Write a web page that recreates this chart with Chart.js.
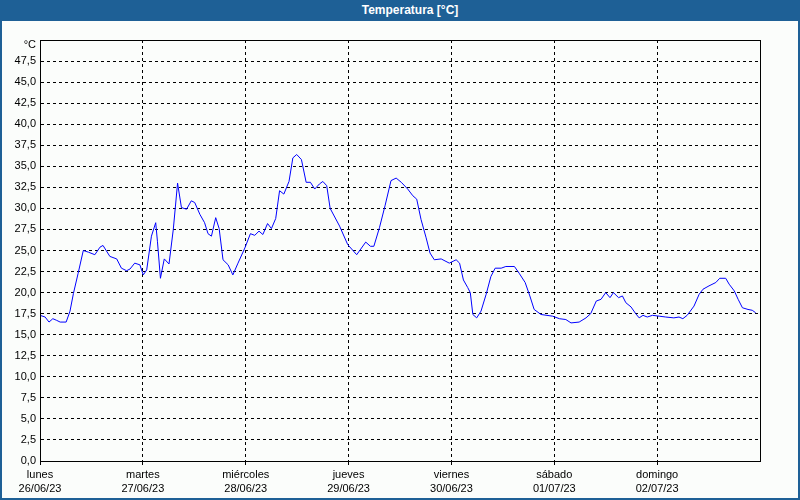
<!DOCTYPE html>
<html>
<head>
<meta charset="utf-8">
<script src="https://cdn.jsdelivr.net/npm/chart.js@4/dist/chart.umd.min.js"></script>
<style>
  html, body { margin: 0; padding: 0; }
  body { width: 800px; height: 500px; position: relative; background: #fbfdfb; overflow: hidden; font-family: "Liberation Sans", Arial, sans-serif; }
  #c { position: absolute; left: 0; top: 0; }
  #titlebar { position: absolute; left: 0; top: 0; width: 800px; height: 21px; background: #1e6096; color: #fff; font: bold 12px "Liberation Sans", Arial, sans-serif; line-height: 21px; text-align: center; text-indent: 20px; }
  .edge { position: absolute; background: #1e6096; }
  #unit { position: absolute; right: 764px; top: 38px; font: 11px "Liberation Sans", Arial, sans-serif; color: #000; }
</style>
</head>
<body>
<canvas id="c" width="800" height="500"></canvas>
<div id="titlebar">Temperatura [°C]</div>
<div class="edge" style="left:0;top:0;width:2px;height:500px"></div>
<div class="edge" style="right:0;top:0;width:2px;height:500px"></div>
<div class="edge" style="left:0;bottom:0;width:800px;height:2px"></div>
<div id="unit">°C</div>
<script>
// Hours since Monday 26/06/23 00:00
const hours = [0, 1.2, 2.1, 3.0, 3.9, 4.7, 6.1, 7.0, 7.8, 8.9, 10.1, 11.3, 12.8, 14.0, 14.7, 16.3, 17.9, 19.0, 20.2, 21.0, 22.1, 23.3, 24.1, 24.9, 26.0, 27.0, 27.4, 28.1, 29.0, 30.1, 31.1, 32.1, 33.0, 34.2, 35.3, 36.1, 37.3, 38.4, 39.2, 40.0, 41.0, 41.8, 42.7, 43.9, 45.0, 46.2, 47.8, 49.1, 50.1, 51.1, 52.0, 53.1, 54.0, 55.0, 55.9, 56.9, 58.1, 59.0, 59.9, 61.0, 62.1, 63.1, 64.1, 65.2, 66.0, 66.9, 67.7, 69.9, 71.8, 73.9, 76.0, 77.1, 77.9, 79.2, 80.5, 81.9, 83.1, 84.3, 85.8, 87.0, 87.9, 88.9, 90.1, 91.0, 92.0, 93.6, 95.5, 97.1, 97.9, 98.8, 99.8, 100.4, 101.0, 101.9, 102.9, 104.1, 105.2, 106.2, 107.6, 108.7, 110.7, 111.8, 113.2, 114.3, 115.3, 116.9, 119.6, 121.2, 122.7, 123.9, 125.8, 127.4, 128.5, 129.8, 130.9, 132.0, 133.0, 133.8, 135.0, 135.9, 136.7, 137.9, 139.0, 139.8, 140.7, 141.7, 142.9, 144.5, 146.0, 147.9, 149.1, 150.0, 151.0, 152.6, 153.8, 154.7, 156.1, 157.7, 158.6, 160.0, 160.8, 162.0, 162.9, 163.9, 165.2, 166.2, 167.0];
const temps = [17.3, 17.1, 16.5, 16.9, 16.7, 16.5, 16.5, 17.8, 19.9, 22.3, 25.0, 24.8, 24.5, 25.4, 25.6, 24.3, 24.0, 22.9, 22.6, 22.8, 23.5, 23.3, 22.1, 22.7, 26.7, 28.3, 26.1, 21.7, 24.0, 23.4, 27.5, 33.0, 30.1, 29.9, 30.9, 30.7, 29.3, 28.3, 27.0, 26.7, 28.9, 27.6, 23.9, 23.3, 22.1, 23.5, 25.3, 27.0, 26.8, 27.3, 26.9, 28.2, 27.6, 28.8, 32.1, 31.7, 33.2, 36.0, 36.4, 35.8, 33.1, 33.1, 32.3, 32.9, 33.2, 32.7, 30.0, 27.9, 25.7, 24.5, 26.0, 25.5, 25.5, 27.7, 30.3, 33.3, 33.6, 33.1, 32.3, 31.5, 31.1, 28.7, 26.5, 24.7, 23.9, 24.0, 23.5, 23.9, 23.5, 21.5, 20.6, 20.0, 17.4, 17.0, 17.8, 19.8, 21.9, 22.9, 22.9, 23.1, 23.1, 22.3, 21.2, 19.6, 18.0, 17.4, 17.2, 16.9, 16.8, 16.4, 16.5, 17.0, 17.5, 19.0, 19.2, 20.0, 19.4, 20.0, 19.4, 19.6, 18.8, 18.3, 17.5, 17.0, 17.3, 17.1, 17.3, 17.2, 17.1, 17.0, 17.1, 16.9, 17.3, 18.4, 19.8, 20.4, 20.8, 21.2, 21.7, 21.7, 21.0, 20.2, 19.2, 18.2, 18.0, 17.9, 17.6];
const dayNames = ['lunes', 'martes', 'miércoles', 'jueves', 'viernes', 'sábado', 'domingo'];
const dayDates = ['26/06/23', '27/06/23', '28/06/23', '29/06/23', '30/06/23', '01/07/23', '02/07/23'];
const yMin = 0, yMax = 50, yStep = 2.5;
const hoursPerDay = 24, totalHours = 168;

const points = hours.map((h, i) => ({ x: h, y: temps[i] }));

const framePlugin = {
  id: 'frame',
  afterDraw(chart) {
    const { ctx, chartArea: a } = chart;
    ctx.save();
    ctx.strokeStyle = '#000';
    ctx.lineWidth = 1;
    ctx.setLineDash([]);
    ctx.strokeRect(Math.round(a.left) + 0.5, Math.round(a.top) + 0.5, Math.round(a.right - a.left), Math.round(a.bottom - a.top));
    ctx.restore();
  }
};

const FONT = { family: '"Liberation Sans", Arial, sans-serif', size: 11, lineHeight: 1.36 };

new Chart(document.getElementById('c'), {
  type: 'line',
  data: {
    datasets: [{
      data: points,
      borderColor: '#0000ff',
      borderWidth: 1,
      pointRadius: 0,
      tension: 0,
      fill: false
    }]
  },
  options: {
    responsive: false,
    animation: false,
    layout: { padding: { left: 0, top: 40, right: 40, bottom: 0 } },
    plugins: { legend: { display: false }, tooltip: { enabled: false }, title: { display: false } },
    scales: {
      x: {
        type: 'linear',
        min: 0,
        max: totalHours,
        afterBuildTicks(scale) {
          const t = [];
          for (let v = 0; v <= totalHours; v += hoursPerDay) t.push({ value: v });
          scale.ticks = t;
        },
        afterFit(scale) { scale.height = 39; },
        ticks: {
          autoSkip: false,
          maxRotation: 0,
          padding: 2,
          color: '#000',
          font: FONT,
          callback(v) {
            const i = Math.round(v / hoursPerDay);
            return i < dayNames.length ? [dayNames[i], dayDates[i]] : '';
          }
        },
        grid: {
          color: '#000',
          lineWidth: 1,
          tickLength: 4,
          tickColor: (ctx) => (ctx.tick && ctx.tick.value >= totalHours) ? 'rgba(0,0,0,0)' : '#000',
          tickBorderDash: [3, 3]
        },
        border: { display: true, color: '#000', width: 1, dash: [3, 3] }
      },
      y: {
        type: 'linear',
        min: yMin,
        max: yMax,
        afterBuildTicks(scale) {
          const t = [];
          for (let v = yMin; v <= yMax + 1e-9; v += yStep) t.push({ value: Math.round(v * 10) / 10 });
          scale.ticks = t;
        },
        afterFit(scale) { scale.width = 40; },
        ticks: {
          autoSkip: false,
          padding: 4,
          color: '#000',
          font: FONT,
          callback(v) { return v >= yMax ? '' : v.toFixed(1).replace('.', ','); }
        },
        grid: { color: '#000', lineWidth: 1, drawTicks: false },
        border: { display: true, color: '#000', width: 1, dash: [3, 3] }
      }
    }
  },
  plugins: [framePlugin]
});
</script>
</body>
</html>
